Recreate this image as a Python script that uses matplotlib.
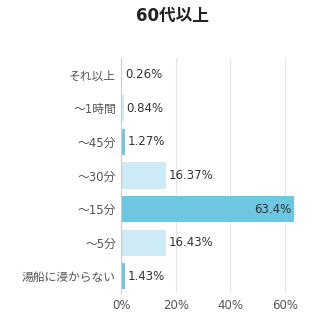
import matplotlib
matplotlib.use("Agg")
import matplotlib.pyplot as plt

plt.rcParams['font.family'] = ['DejaVu Sans', 'Noto Sans CJK JP']

categories = ['それ以上', '～1時間', '～45分', '～30分', '～15分', '～5分', '湯船に浸からない']
values = [0.26, 0.84, 1.27, 16.37, 63.4, 16.43, 1.43]
value_labels = ['0.26%', '0.84%', '1.27%', '16.37%', '63.4%', '16.43%', '1.43%']
dark = [False, False, True, False, True, False, True]
x_ticks = [0, 20, 40, 60]
x_tick_labels = ['0%', '20%', '40%', '60%']

fig = plt.figure(figsize=(3.23, 3.22), dpi=100)
ax = fig.add_axes([0.376, 0.09, 0.54, 0.73])

ypos = list(range(len(categories)))[::-1]
colors = ['#6ec6e1' if d else '#cdebf5' for d in dark]
ax.barh(ypos, values, height=0.78, color=colors, zorder=2)

for y, v, lab in zip(ypos, values, value_labels):
    if v > 50:
        ax.text(v - 1.0, y, lab, ha='right', va='center', fontsize=8.5, color='#333333', zorder=3)
    else:
        ax.text(v + 1.0, y, lab, ha='left', va='center', fontsize=8.5, color='#333333', zorder=3)

ax.set_xlim(0, 64)
ax.set_ylim(-0.5, 6.5)
ax.set_yticks(ypos)
ax.set_yticklabels(categories, fontsize=8.5, color='#555555')
ax.set_xticks(x_ticks)
ax.set_xticklabels(x_tick_labels, fontsize=8.5, color='#555555')
ax.tick_params(axis='both', length=0, pad=4)
ax.xaxis.grid(True, color='#e6e6e6', linewidth=0.8, zorder=0)
for s in ['top', 'right', 'bottom']:
    ax.spines[s].set_visible(False)
ax.spines['left'].set_color('#cccccc')
ax.spines['left'].set_linewidth(0.8)

fig.text(0.533, 0.952, '60代以上', ha='center', va='center', fontsize=12, color='#222222', fontweight='bold')

fig.savefig('out.png', dpi=100)
